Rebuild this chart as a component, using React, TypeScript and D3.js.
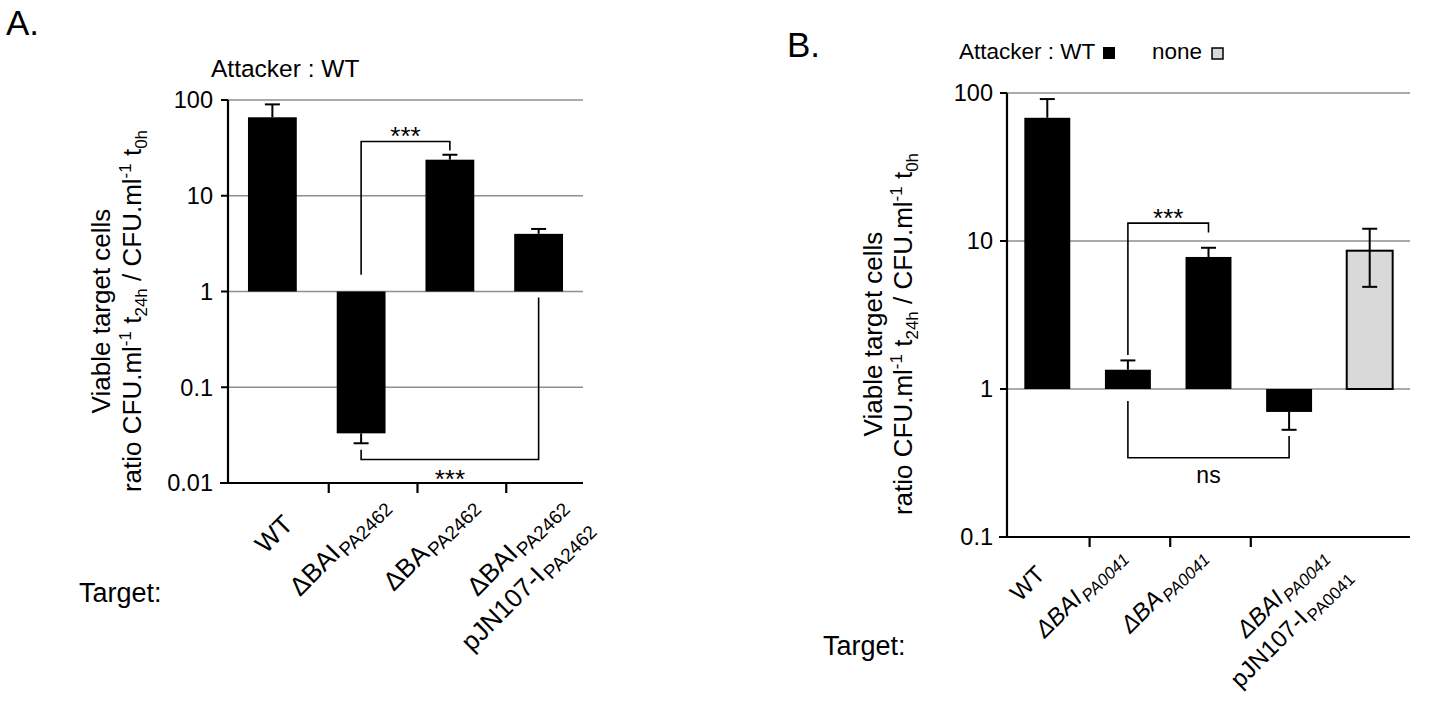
import React from "react";
import * as d3 from "d3";

const FONT = "'Liberation Sans', Arial, Helvetica, sans-serif";

// ---------- Panel A data ----------
const valuesA = [66, 0.033, 23.8, 4.0];
const errorsA = [90, 0.026, 26.8, 4.5];
const errorsLowA: (number | null)[] = [null, null, null, null];
const attackerA = ["WT", "WT", "WT", "WT"];
const groupsA = [[0], [1], [2], [3]];
const ticksA = [100, 10, 1, 0.1, 0.01];
const tickLabelsA = ["100", "10", "1", "0.1", "0.01"];

type Seg = { t: string; sub?: boolean; it?: boolean };
const labelsA: Seg[][][] = [
  [[{ t: "WT" }]],
  [[{ t: "ΔBAI" }, { t: "PA2462", sub: true }]],
  [[{ t: "ΔBA" }, { t: "PA2462", sub: true }]],
  [
    [{ t: "ΔBAI" }, { t: "PA2462", sub: true }],
    [{ t: "pJN107-I" }, { t: "PA2462", sub: true }],
  ],
];
const bracketsA = [
  { from: 1, to: 2, y1: 1.5, yMid: 36.9, y2: 29.7, text: "***", above: true },
  { from: 1, to: 3, y1: 0.0223, yMid: 0.0176, y2: 0.865, text: "***", above: false },
];

// ---------- Panel B data ----------
const valuesB = [68, 1.35, 7.8, 0.7, 8.6];
const errorsB = [91, 1.56, 9.0, 0.53, 12.1];
const errorsLowB: (number | null)[] = [null, null, null, null, 4.9];
const attackerB = ["WT", "WT", "WT", "WT", "none"];
const groupsB = [[0], [1], [2], [3, 4]];
const ticksB = [100, 10, 1, 0.1];
const tickLabelsB = ["100", "10", "1", "0.1"];
const labelsB: Seg[][][] = [
  [[{ t: "WT" }]],
  [[{ t: "ΔBAI", it: true }, { t: "PA0041", sub: true, it: true }]],
  [[{ t: "ΔBA", it: true }, { t: "PA0041", sub: true, it: true }]],
  [
    [{ t: "ΔBAI", it: true }, { t: "PA0041", sub: true, it: true }],
    [{ t: "pJN107-I" }, { t: "PA0041", sub: true }],
  ],
];
const bracketsB = [
  { from: 1, to: 2, y1: 1.7, yMid: 13.2, y2: 11.4, text: "***", above: true },
  { from: 1, to: 3, y1: 0.83, yMid: 0.343, y2: 0.482, text: "ns", above: false },
];

const legendB = [
  { name: "Attacker : WT", key: "WT" },
  { name: "none", key: "none" },
];

const fillFor = (a: string) => (a === "WT" ? "#000" : "#d9d9d9");

type PanelProps = {
  values: number[];
  errors: number[];
  errorsLow: (number | null)[];
  attackers: string[];
  groups: number[][];
  ticks: number[];
  tickLabels: string[];
  labels: Seg[][][];
  brackets: typeof bracketsA;
  x0: number;
  x1: number;
  yTop: number;
  yBot: number;
  domain: [number, number];
  padding: number;
  tickLabelX: number;
  titleX1: number;
  titleX2: number;
  titleCY: number;
  labelFs: number;
  subFs: number;
  labelDx: number;
  labelDy: number;
  plainDx: number;
  plainDy: number;
  lineGap: number;
  tickOffset: number;
};

function YTitle({ x1, x2, cy }: { x1: number; x2: number; cy: number }) {
  const fs = 26;
  const sfs = 17;
  return (
    <g fontFamily={FONT} fill="#000">
      <text transform={`translate(${x1},${cy}) rotate(-90)`} textAnchor="middle" fontSize={fs}>
        Viable target cells
      </text>
      <text transform={`translate(${x2},${cy}) rotate(-90)`} textAnchor="middle" fontSize={fs}>
        <tspan>ratio CFU.ml</tspan>
        <tspan fontSize={sfs} dy={-10}>-1</tspan>
        <tspan dy={10}> t</tspan>
        <tspan fontSize={sfs} dy={6}>24h</tspan>
        <tspan dy={-6}> / CFU.ml</tspan>
        <tspan fontSize={sfs} dy={-10}>-1</tspan>
        <tspan dy={10}> t</tspan>
        <tspan fontSize={sfs} dy={6}>0h</tspan>
      </text>
    </g>
  );
}

function Panel(p: PanelProps) {
  const y = d3.scaleLog().domain(p.domain).range([p.yBot, p.yTop]);
  const idx = p.values.map((_, i) => String(i));
  const x = d3
    .scaleBand()
    .domain(idx)
    .range([p.x0, p.x1])
    .paddingInner(p.padding)
    .paddingOuter(p.padding / 2);
  const bw = x.bandwidth();
  const cx = (i: number) => (x(String(i)) as number) + bw / 2;
  const y1 = y(1);
  const cap = 7.5;

  const tickXs = p.groups.slice(0, -1).map((g) => {
    const last = g[g.length - 1];
    return (x(String(last)) as number) + bw + (x.step() - bw) / 2 + p.tickOffset;
  });
  const groupCenter = (g: number[]) => (cx(g[0]) + cx(g[g.length - 1])) / 2;

  return (
    <g>
      {p.ticks.slice(0, -1).map((t) => (
        <line key={"g" + t} x1={p.x0} x2={p.x1} y1={y(t)} y2={y(t)} stroke="#8f8f8f" strokeWidth={1.6} />
      ))}
      {p.values.map((v, i) => {
        const a = p.attackers[i];
        const top = Math.min(y(v), y1);
        const h = Math.abs(y(v) - y1);
        return (
          <rect
            key={"b" + i}
            x={x(String(i))}
            y={top}
            width={bw}
            height={h}
            fill={fillFor(a)}
            stroke={a === "WT" ? "none" : "#000"}
            strokeWidth={2}
          />
        );
      })}
      {p.values.map((v, i) => {
        const e = p.errors[i];
        const lo = p.errorsLow[i];
        const c = cx(i);
        const from = lo != null ? lo : v;
        return (
          <g key={"e" + i} stroke="#000" strokeWidth={2}>
            <line x1={c} x2={c} y1={y(from)} y2={y(e)} />
            <line x1={c - cap} x2={c + cap} y1={y(e)} y2={y(e)} />
            {lo != null && <line x1={c - cap} x2={c + cap} y1={y(lo)} y2={y(lo)} />}
          </g>
        );
      })}
      <line x1={p.x0} x2={p.x0} y1={p.yTop} y2={p.yBot} stroke="#000" strokeWidth={2.2} />
      <line x1={p.x0 - 8} x2={p.x1} y1={p.yBot} y2={p.yBot} stroke="#000" strokeWidth={2.2} />
      {p.ticks.map((t, i) => (
        <g key={"t" + t}>
          <line x1={p.x0 - 7} x2={p.x0} y1={y(t)} y2={y(t)} stroke="#000" strokeWidth={2} />
          <text
            x={p.tickLabelX}
            y={y(t)}
            dy="0.36em"
            textAnchor="end"
            fontFamily={FONT}
            fontSize={23.5}
            fill="#000"
          >
            {p.tickLabels[i]}
          </text>
        </g>
      ))}
      {tickXs.map((tx, i) => (
        <line key={"xt" + i} x1={tx} x2={tx} y1={p.yBot} y2={p.yBot + 10} stroke="#000" strokeWidth={2.2} />
      ))}
      {p.brackets.map((b, i) => {
        const xa = cx(b.from);
        const xb = cx(b.to);
        const ym = y(b.yMid);
        const fs = b.text === "ns" ? 23 : 26;
        const ty = b.above ? ym + 4 : ym + (b.text === "ns" ? 25 : 29);
        return (
          <g key={"br" + i}>
            <polyline
              points={`${xa},${y(b.y1)} ${xa},${ym} ${xb},${ym} ${xb},${y(b.y2)}`}
              fill="none"
              stroke="#000"
              strokeWidth={1.6}
            />
            <text x={(xa + xb) / 2} y={ty} textAnchor="middle" fontFamily={FONT} fontSize={fs} fill="#000">
              {b.text}
            </text>
          </g>
        );
      })}
      {p.labels.map((lines, gi) => {
        const gc = groupCenter(p.groups[gi]);
        const hasSub = lines[0].some((s) => s.sub);
        const ax = gc + (hasSub ? p.labelDx : p.plainDx);
        const ay = p.yBot + (hasSub ? p.labelDy : p.plainDy);
        return (
          <g key={"l" + gi} transform={`translate(${ax},${ay}) rotate(-45)`}>
            {lines.map((segs, li) => (
              <text
                key={li}
                x={li * 3}
                y={li * p.lineGap}
                textAnchor="end"
                fontFamily={FONT}
                fontSize={p.labelFs}
                fill="#000"
              >
                {segs.map((s, si) => (
                  <tspan
                    key={si}
                    fontSize={s.sub ? p.subFs : p.labelFs}
                    fontStyle={s.it ? "italic" : "normal"}
                    dy={s.sub ? 5 : si > 0 ? -5 : 0}
                    dx={s.sub ? 2 : 0}
                  >
                    {s.t}
                  </tspan>
                ))}
              </text>
            ))}
          </g>
        );
      })}
      <YTitle x1={p.titleX1} x2={p.titleX2} cy={p.titleCY} />
    </g>
  );
}

export default function App() {
  return (
    <svg
      width={1453}
      height={717}
      viewBox="0 0 1453 717"
      style={{ position: "absolute", left: 0, top: 0, background: "#fff" }}
    >
      <rect width={1453} height={717} fill="#fff" />
      <text x={6} y={35} fontFamily={FONT} fontSize={35} fill="#000">A.</text>
      <text x={211} y={77} fontFamily={FONT} fontSize={24.5} fill="#000">Attacker : WT</text>
      <text x={79} y={602} fontFamily={FONT} fontSize={27} fill="#000">Target:</text>
      <Panel
        values={valuesA}
        errors={errorsA}
        errorsLow={errorsLowA}
        attackers={attackerA}
        groups={groupsA}
        ticks={ticksA}
        tickLabels={tickLabelsA}
        labels={labelsA}
        brackets={bracketsA}
        x0={228}
        x1={583}
        yTop={100}
        yBot={483}
        domain={[0.01, 100]}
        padding={0.45}
        tickLabelX={213}
        titleX1={110}
        titleX2={141}
        titleCY={311}
        labelFs={26}
        subFs={19}
        labelDx={29}
        labelDy={24}
        plainDx={22}
        plainDy={43}
        lineGap={35}
        tickOffset={12}
      />
      <text x={787} y={57} fontFamily={FONT} fontSize={35} fill="#000">B.</text>
      <text x={959} y={59} fontFamily={FONT} fontSize={22.5} fill="#000">{legendB[0].name}</text>
      <rect x={1103} y={47} width={12} height={12} fill={fillFor(legendB[0].key)} />
      <text x={1152} y={59} fontFamily={FONT} fontSize={22.5} fill="#000">{legendB[1].name}</text>
      <rect x={1212} y={48} width={11} height={11} fill={fillFor(legendB[1].key)} stroke="#000" strokeWidth={1.5} />
      <text x={823} y={655} fontFamily={FONT} fontSize={27} fill="#000">Target:</text>
      <Panel
        values={valuesB}
        errors={errorsB}
        errorsLow={errorsLowB}
        attackers={attackerB}
        groups={groupsB}
        ticks={ticksB}
        tickLabels={tickLabelsB}
        labels={labelsB}
        brackets={bracketsB}
        x0={1007}
        x1={1410}
        yTop={93}
        yBot={537}
        domain={[0.1, 100]}
        padding={0.43}
        tickLabelX={993}
        titleX1={882}
        titleX2={912}
        titleCY={334}
        labelFs={24}
        subFs={17}
        labelDx={-1}
        labelDy={20}
        plainDx={-1}
        plainDy={39}
        lineGap={31}
        tickOffset={2}
      />
    </svg>
  );
}
